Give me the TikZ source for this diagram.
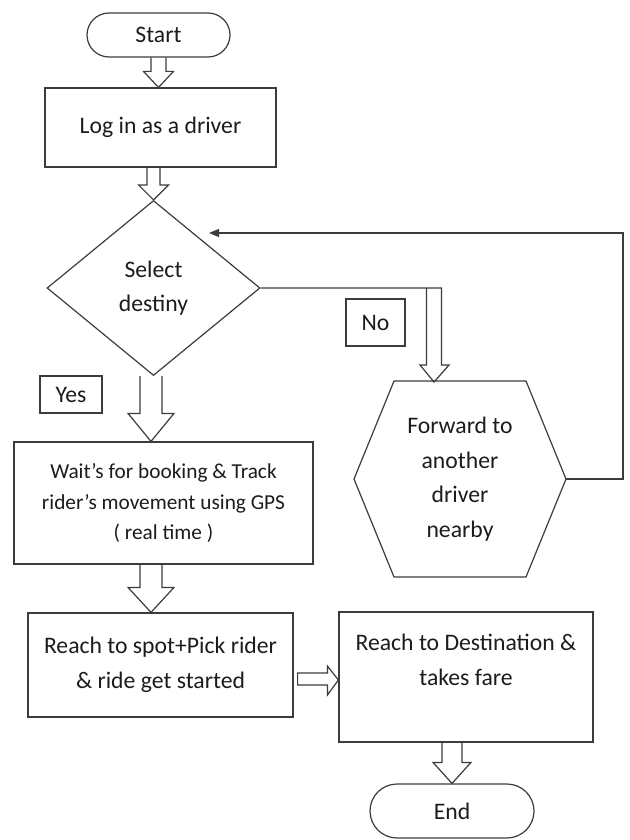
\documentclass[tikz,border=0pt]{standalone}
\usepackage{fontspec}
\setmainfont{Carlito}
\usetikzlibrary{shapes.geometric,shapes.misc,arrows.meta,calc}
\definecolor{ln}{HTML}{3C3C3C}
\definecolor{tx}{HTML}{1C1C1C}
\newcommand\bigfs{\fontsize{23.7}{34.5}\selectfont}
\newcommand\midfs{\fontsize{21.3}{30.5}\selectfont}
\newcommand\blkdown[6]{%
  \draw[conn] let \p1=(#1), \p2=(#2) in
    (\x1+#3-#4,\y1) -- (\x1+#3-#4,\y2+#6) -- (\x1+#3-#5,\y2+#6) -- (\x1+#3,\y2)
    -- (\x1+#3+#5,\y2+#6) -- (\x1+#3+#4,\y2+#6) -- (\x1+#3+#4,\y1);}
\begin{document}
\begin{tikzpicture}[x=1pt,y=-1pt,
  conn/.style={draw=ln, line width=1.2pt, line join=miter},
  box/.style={rectangle, draw=ln, line width=1.2pt, inner sep=0pt, align=center, font=\bigfs, text=tx},
  term/.style={rounded rectangle, draw=ln, line width=1.2pt, inner sep=0pt, font=\bigfs, text=tx},
  dia/.style={diamond, draw=ln, line width=1.2pt, inner sep=0pt, align=center, font=\bigfs, text=tx,
    minimum width=213pt, minimum height=175pt}]
\useasboundingbox (0,0) rectangle (629,840);
\fill[white] (0,0) rectangle (629,840);

\node[term, minimum width=143pt, minimum height=44pt] (start) at (158.5,35) {Start};
\node[box, minimum width=231pt, minimum height=79pt] (login) at (160.5,127.5) {Log in as a driver};
\node[dia] (dia) at (153.5,288) {Select\\destiny};
\node[box, minimum width=62pt, minimum height=37pt] (yes) at (71,394.5) {Yes};
\node[box, minimum width=59pt, minimum height=47pt] (no) at (375.5,322.5) {No};
\node[box, font=\midfs, minimum width=299pt, minimum height=122pt] (wait) at (163.5,503)
  {Wait’s for booking \& Track\\rider’s movement using GPS\\( real time )};
\node[box, minimum width=265pt, minimum height=104pt] (reach) at (160.5,665)
  {Reach to spot+Pick rider\\\& ride get started};
\node[box, minimum width=254pt, minimum height=130pt] (dest) at (466,677)
  {Reach to Destination \&\\takes fare\\\mbox{}};
\node[term, minimum width=164pt, minimum height=54pt] (end) at (452,811) {End};
\node[align=center, font=\bigfs, text=tx, inner sep=0pt] (fwd) at (460,479)
  {Forward to\\another\\driver\\nearby};

% hexagon around the forward node
\draw[conn] ($(fwd)+(-66,-98)$) -- ($(fwd)+(66,-98)$) -- ($(fwd)+(106,0)$) coordinate (hexR)
  -- ($(fwd)+(66,98)$) -- ($(fwd)+(-66,98)$) -- ($(fwd)+(-106,0)$) -- cycle;
\coordinate (hexT) at ($(fwd)+(-26,-97)$);

% block arrows
\blkdown{start.south}{login.north}{0pt}{7.5pt}{15pt}{16pt}
\blkdown{login.south}{dia.north}{-7pt}{6.5pt}{15pt}{15pt}
\blkdown{dia.south}{wait.north}{-2.5pt}{11pt}{23pt}{28pt}
\blkdown{wait.south}{reach.north}{-12.5pt}{11pt}{23pt}{25pt}
\blkdown{dest.south}{end.north}{-14pt}{10pt}{19pt}{21pt}

\draw[conn] let \p1=(reach.east), \p2=(dest.west) in
  (\x1+4pt,\y1-8pt) -- (\x2-11pt,\y1-8pt) -- (\x2-11pt,\y1-1pt) -- (\x2,\y1-15pt)
  -- (\x2-11pt,\y1-30pt) -- (\x2-11pt,\y1-20pt) -- (\x1+4pt,\y1-20pt) -- cycle;

% "No" branch
\draw[conn] (dia.east) -- ($(hexT |- dia.east)+(7.5,0)$) -- ($(hexT)+(7.5,-17)$)
  -- ($(hexT)+(15,-17)$) -- (hexT) -- ($(hexT)+(-14,-17)$) -- ($(hexT)+(-7.5,-17)$)
  -- ($(hexT |- dia.east)+(-7.5,0)$);

% loop back
\coordinate (loopc) at (623,233);
\coordinate (looptip) at (209,233);
\draw[conn, -{Triangle[length=10pt,width=8pt]}] (hexR) -- (loopc |- hexR) -- (loopc) -- (looptip);
\end{tikzpicture}
\end{document}
